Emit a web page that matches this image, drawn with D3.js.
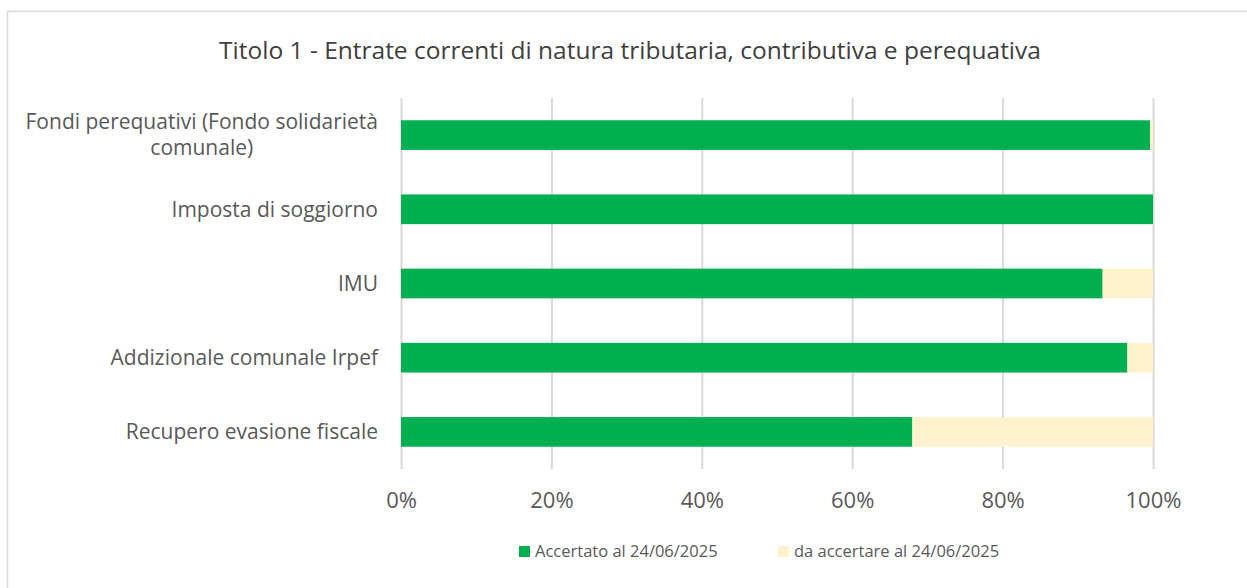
<!DOCTYPE html>
<html>
<head>
<meta charset="utf-8">
<script src="https://cdn.jsdelivr.net/npm/d3@7"></script>
<style>
    body { margin: 0; background: #fff; }
    svg text { font-family: "Open Sans", Lato, sans-serif; fill: #595959; }
</style>
</head>
<body>
<svg id="drawing_region" width="1247" height="588"></svg>
<script>
const categories = [
    "Fondi perequativi (Fondo solidarietà comunale)",
    "Imposta di soggiorno",
    "IMU",
    "Addizionale comunale Irpef",
    "Recupero evasione fiscale"
];
const accertato = [0.996, 1.0, 0.933, 0.966, 0.68];
const daAccertare = [0.004, 0.0, 0.067, 0.034, 0.32];
const seriesNames = ["Accertato al 24/06/2025", "da accertare al 24/06/2025"];
const colors = ["#00B050", "#FFF2CC"];
const xTicks = [0, 0.2, 0.4, 0.6, 0.8, 1.0];

const svg = d3.select("#drawing_region");

// chart border
svg.append("rect")
    .attr("x", 7.5).attr("y", 11.5)
    .attr("width", 1260).attr("height", 600)
    .attr("fill", "none")
    .attr("stroke", "#d9d9d9")
    .attr("stroke-width", 1.5);

svg.append("text")
    .attr("x", 630).attr("y", 59)
    .attr("text-anchor", "middle")
    .attr("font-size", 24.5)
    .style("fill", "#404040")
    .text("Titolo 1 - Entrate correnti di natura tributaria, contributiva e perequativa");

const x = d3.scaleLinear().domain([0, 1]).range([401, 1153]);
const y = d3.scaleBand().domain(categories).range([98, 469])
    .paddingInner(0.6).paddingOuter(0.3);

// gridlines + tick labels
svg.append("g")
    .attr("transform", "translate(0,469)")
    .call(d3.axisBottom(x).tickValues(xTicks).tickSize(-371).tickFormat(d3.format(".0%")))
    .call(g => g.select(".domain").remove())
    .call(g => g.selectAll(".tick line").attr("stroke", "#d9d9d9").attr("stroke-width", 2))
    .call(g => g.selectAll(".tick text")
        .attr("y", 39)
        .attr("dy", 0)
        .attr("font-size", 22));

const rows = categories.map((c, i) => ({ cat: c, a: accertato[i], b: daAccertare[i] }));
const stack = d3.stack().keys(["a", "b"])(rows);

svg.append("g").selectAll("g")
    .data(stack)
    .enter()
    .append("g")
    .attr("fill", (d, i) => colors[i])
    .selectAll("rect")
    .data(d => d)
    .enter()
    .append("rect")
    .attr("x", d => x(d[0]))
    .attr("y", d => y(d.data.cat))
    .attr("width", d => x(d[1]) - x(d[0]))
    .attr("height", y.bandwidth());

// category labels (wrapped, centred lines like Excel)
const labelX = 378;
const labelSize = 21;
const labelG = svg.append("g");
categories.forEach(c => {
    const cy = y(c) + y.bandwidth() / 2;
    const t = labelG.append("text")
        .attr("font-size", labelSize)
        .attr("text-anchor", "end")
        .attr("x", labelX)
        .attr("y", cy)
        .attr("dy", "0.35em")
        .text(c);
    const w = t.node().getComputedTextLength();
    if (w > 370) {
        const words = c.split(" ");
        const first = words.slice(0, 4).join(" ");
        const second = words.slice(4).join(" ");
        t.text(null);
        t.attr("text-anchor", "middle");
        const tmp = labelG.append("text").attr("font-size", labelSize).text(first);
        const fw = tmp.node().getComputedTextLength();
        tmp.remove();
        const mid = labelX - fw / 2;
        t.append("tspan").attr("x", mid).attr("y", cy - 13).attr("dy", "0.35em").text(first);
        t.append("tspan").attr("x", mid).attr("y", cy + 13).attr("dy", "0.35em").text(second);
    }
});

// legend
const legendX = [519, 778];
const legend = svg.append("g").selectAll("g")
    .data(seriesNames)
    .enter()
    .append("g")
    .attr("transform", (d, i) => `translate(${legendX[i]},551)`);
legend.append("rect")
    .attr("x", 0).attr("y", -5)
    .attr("width", 11).attr("height", 11)
    .attr("fill", (d, i) => colors[i]);
legend.append("text")
    .attr("x", 16).attr("y", 6)
    .attr("font-size", 16.5)
    .text(d => d);
</script>
</body>
</html>
